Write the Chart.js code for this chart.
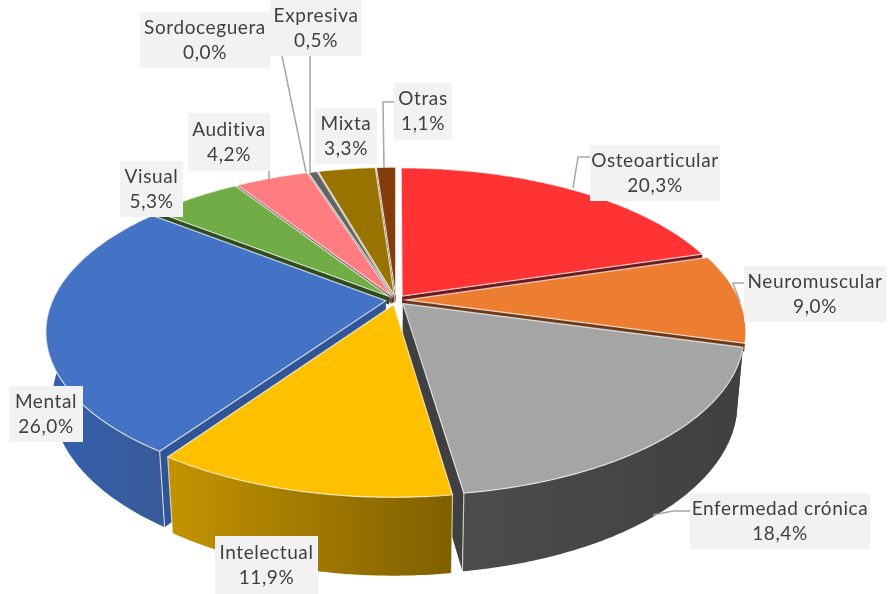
<!DOCTYPE html>
<html>
<head>
<meta charset="utf-8">
<title>Tipo de discapacidad</title>
<script src="https://cdn.jsdelivr.net/npm/chart.js@4"></script>
<style>
  html, body { margin: 0; background: #fff; }
  canvas { display: block; }
</style>
</head>
<body>
<canvas id="myChart" width="890" height="594"></canvas>
<script>
// data
const categories = ['Osteoarticular', 'Neuromuscular', 'Enfermedad crónica', 'Intelectual', 'Mental', 'Visual', 'Auditiva', 'Sordoceguera', 'Expresiva', 'Mixta', 'Otras']
const shares = [20.3, 9.0, 18.4, 11.9, 26.0, 5.3, 4.2, 0.0, 0.5, 3.3, 1.1]

// colours: top face, then outer wall left / right, then cut faces
const topColors = ['#ff3333', '#ed7d31', '#a5a5a5', '#ffc000', '#4472c4', '#70ad47', '#ff7c80', '#7f7f7f', '#636363', '#997300', '#843c0c']
const wallLeft = ['#7f1919', '#8a4a1c', '#4c4c4c', '#c49300', '#3360ae', '#3f6b27', '#a04e50', '#555555', '#404040', '#6b5000', '#5c2a08']
const wallRight = ['#7f1919', '#8a4a1c', '#404040', '#7f6000', '#395a98', '#3f6b27', '#a04e50', '#555555', '#404040', '#6b5000', '#5c2a08']
const cutColors = ['#6e1a1e', '#6e3a18', '#404040', '#7f6000', '#2f5597', '#2f4a1e', '#8a4446', '#404040', '#404040', '#5f4700', '#4a2206']

// label boxes [left, top, right, bottom] and their leader lines
const labelBoxes = [
  [590, 145, 720, 201], [744, 266, 886, 322], [690, 493, 870, 549], [215, 536, 318, 594],
  [9, 386, 83, 442], [120, 161, 183, 217], [188, 113, 270, 171], [140, 12, 270, 68],
  [270, 0, 362, 56], [315, 108, 377, 164], [394, 83, 452, 140]
]
const leaders = [
  [[590, 157], [578, 157], [573, 188]],
  [[744, 283], [733, 283], [740, 302]],
  [[690, 511], [673, 511], [653, 515]],
  null,
  null,
  null,
  [[269, 171], [269, 180]],
  [[282, 56], [306, 172]],
  [[310, 56], [310, 172]],
  null,
  [[384, 168], [383, 102], [394, 102]]
]

// view of the tilted disk
const view = { rx: 333, ry: 154, height: 68, perspective: 0.19, drop: 0.018 }

function project(arc, a, b, low) {
  const w = 1 - view.perspective * b + (low ? view.drop : 0)
  return {
    x: arc.x + a * view.rx / w,
    y: arc.y + (b * view.ry + (low ? view.height : 0)) / w
  }
}

function tracePath(ctx, pts) {
  ctx.beginPath()
  pts.forEach((p, i) => i ? ctx.lineTo(p.x, p.y) : ctx.moveTo(p.x, p.y))
  ctx.closePath()
}

// far slices only show a thin strip of their cut faces inside the gaps
function partWay(from, to, part) {
  return { x: from.x + (to.x - from.x) * part, y: from.y + (to.y - from.y) * part }
}

function drawSlice(ctx, arc, i) {
  const mid = (arc.startAngle + arc.endAngle) / 2
  const shift = arc.options.offset / arc.outerRadius
  const ox = Math.cos(mid) * shift
  const oy = Math.sin(mid) * shift
  const steps = Math.max(2, Math.ceil((arc.endAngle - arc.startAngle) * 90))

  const rim = []
  for (let s = 0; s <= steps; s++) {
    const ang = arc.startAngle + (arc.endAngle - arc.startAngle) * s / steps
    rim.push([Math.cos(ang) + ox, Math.sin(ang) + oy])
  }
  const top = rim.map(p => project(arc, p[0], p[1], false))
  const low = rim.map(p => project(arc, p[0], p[1], true))
  const apexTop = project(arc, ox, oy, false)
  const apexLow = project(arc, ox, oy, true)
  const facing = Math.max(...rim.map(p => p[1])) > 0.4
  const part = facing ? 1 : 0.12

  // cut faces
  ctx.fillStyle = cutColors[i]
  tracePath(ctx, [apexTop, top[0], partWay(top[0], low[0], part), partWay(apexTop, apexLow, part)])
  ctx.fill()
  tracePath(ctx, [apexTop, top[steps], partWay(top[steps], low[steps], part), partWay(apexTop, apexLow, part)])
  ctx.fill()

  // outer wall, only for slices that really face the viewer
  if (facing) {
    const xs = top.concat(low).map(p => p.x)
    const grad = ctx.createLinearGradient(Math.min(...xs), 0, Math.max(...xs), 0)
    grad.addColorStop(0, wallLeft[i])
    grad.addColorStop(1, wallRight[i])
    ctx.fillStyle = grad
    tracePath(ctx, top.concat(low.slice().reverse()))
    ctx.fill()

    // light corner edges
    ctx.strokeStyle = 'rgba(255,255,255,0.65)'
    ctx.lineWidth = 1.2
    ctx.beginPath()
    if (rim[0][1] > 0.4) {
      ctx.moveTo(top[0].x, top[0].y)
      ctx.lineTo(low[0].x, low[0].y)
    }
    if (rim[steps][1] > 0.4) {
      ctx.moveTo(top[steps].x, top[steps].y)
      ctx.lineTo(low[steps].x, low[steps].y)
    }
    ctx.stroke()
  }

  // top face
  ctx.fillStyle = topColors[i]
  tracePath(ctx, [apexTop].concat(top))
  ctx.fill()
  ctx.strokeStyle = 'rgba(255,255,255,0.7)'
  ctx.lineWidth = 1.2
  ctx.stroke()
}

function drawLabels(ctx) {
  ctx.textAlign = 'center'
  ctx.textBaseline = 'middle'
  ctx.font = '19px Lato'
  ctx.letterSpacing = '0.6px'
  categories.forEach((name, i) => {
    const box = labelBoxes[i]
    ctx.fillStyle = '#f2f2f2'
    ctx.fillRect(box[0], box[1], box[2] - box[0], box[3] - box[1])
  })
  ctx.strokeStyle = '#a6a6a6'
  ctx.lineWidth = 1.5
  leaders.forEach(line => {
    if (!line) return
    ctx.beginPath()
    line.forEach((p, n) => n ? ctx.lineTo(p[0], p[1]) : ctx.moveTo(p[0], p[1]))
    ctx.stroke()
  })
  categories.forEach((name, i) => {
    const box = labelBoxes[i]
    const cx = (box[0] + box[2]) / 2
    const cy = (box[1] + box[3]) / 2
    ctx.fillStyle = '#404040'
    ctx.fillText(name, cx, cy - 12.5)
    ctx.fillText(shares[i].toFixed(1).replace('.', ',') + '%', cx, cy + 12.5)
  })
}

const pie3d = {
  id: 'pie3d',
  beforeDatasetsDraw(chart) {
    const ctx = chart.ctx
    const arcs = chart.getDatasetMeta(0).data
    const order = arcs.map((arc, i) => i)
      .filter(i => arcs[i].circumference > 0)
      .sort((p, q) => Math.sin((arcs[p].startAngle + arcs[p].endAngle) / 2) - Math.sin((arcs[q].startAngle + arcs[q].endAngle) / 2))
    ctx.save()
    order.forEach(i => drawSlice(ctx, arcs[i], i))
    ctx.restore()
    return false
  },
  afterDraw(chart) {
    chart.ctx.save()
    drawLabels(chart.ctx)
    chart.ctx.restore()
  }
}

const ctx = document.getElementById('myChart').getContext('2d')

const myChart = new Chart(ctx, {
  type: 'pie',
  data: {
    labels: categories,
    datasets: [{
      data: shares,
      backgroundColor: topColors,
      offset: 9,
      borderWidth: 0
    }]
  },
  options: {
    responsive: false,
    animation: false,
    layout: { padding: { right: 98, top: 6 } },
    plugins: { legend: { display: false }, tooltip: { enabled: false } }
  },
  plugins: [pie3d]
})
</script>
</body>
</html>
